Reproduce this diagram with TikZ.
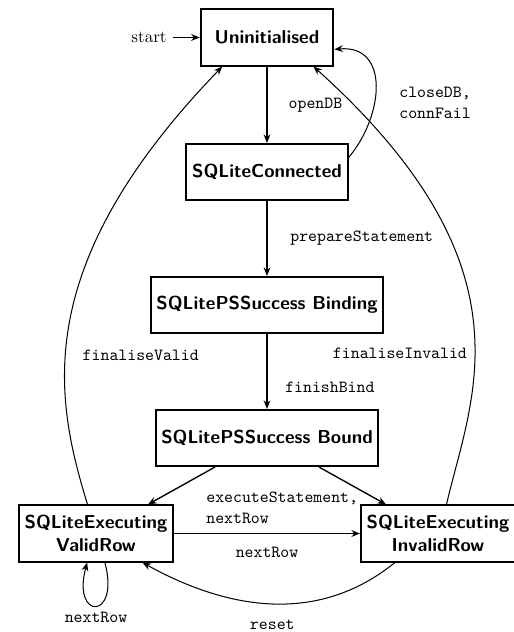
\documentclass[tikz,border=0pt]{standalone}
\usepackage{amsmath}
\usepackage{tikz}
\usetikzlibrary{arrows.meta}

\begin{document}
\begin{tikzpicture}[x=0.5882pt, y=0.5882pt,
        >={Stealth[length=5pt,width=4pt]},
        state/.style={draw, very thick, minimum width=78pt, minimum height=33pt, align=center,
            font=\fontsize{11}{13.5}\selectfont\sffamily\bfseries},
        lbl/.style={font=\ttfamily, align=left},
        edge/.style={thick, ->},
        arc/.style={semithick, ->}]
        % Sabit cerceve
        \useasboundingbox (0,0) rectangle (513,632);

        % Durumlar
        \node[state] (uninit) at (267,594.5) {Uninitialised};
        \node[state] (conn) at (267,460) {SQLiteConnected};
        \node[state] (bind) at (267,327) {SQLitePSSuccess Binding};
        \node[state] (bound) at (267,194) {SQLitePSSuccess Bound};
        \node[state] (valid) at (96,98.5) {SQLiteExecuting\\ValidRow};
        \node[state] (invalid) at (438,98.5) {SQLiteExecuting\\InvalidRow};
        \node (start) at (149,594.5) {start};

        % Duz gecisler
        \draw[edge] (start) -- (uninit);
        \draw[edge] (uninit) -- (conn) node[lbl, right=9pt, midway] {openDB};
        \draw[edge] (conn) -- (bind) node[lbl, right=10pt, midway] {prepareStatement};
        \draw[edge] (bind) -- (bound) node[lbl, right=7pt, pos=0.71] {finishBind};
        \draw[edge] (bound) -- (valid);
        \draw[edge] (bound) -- (invalid)
            node[lbl, pos=0.5, anchor=north east, xshift=7pt] {executeStatement,\\nextRow};
        \draw[edge] (valid) -- (invalid) node[lbl, below=4.5pt, midway] {nextRow};

        % Egri gecisler
        \draw[arc] (conn.10) to[out=50, in=5, looseness=1.3]
            node[lbl, right=11pt, pos=0.38] {closeDB,\\connFail} (uninit.-10);
        \draw[arc] ([xshift=-5pt]valid.north) .. controls +(107:110) and +(226:280) ..
            node[lbl, right=6.5pt, pos=0.42] {finaliseValid} (uninit.213);
        \draw[arc] ([xshift=5pt]invalid.north) .. controls +(77:110) and +(318:300) ..
            node[lbl, left=1pt, pos=0.42] {finaliseInvalid} (uninit.-32);
        \draw[arc] (invalid.214) to[out=219, in=-29]
            node[lbl, below=6pt, midway] {reset} (valid.-32);
        \draw[arc] (valid.-73) .. controls +(-75:60) and +(-105:60) ..
            node[lbl, below=0pt, midway] {nextRow} (valid.-107);
    \end{tikzpicture}
\end{document}
